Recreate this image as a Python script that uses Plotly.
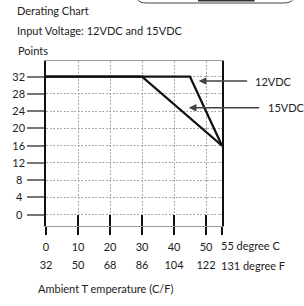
import plotly.graph_objects as go

# ---- data ----
temp_c_12 = [0, 45, 55]
points_12 = [32, 32, 16]
temp_c_15 = [0, 30, 55]
points_15 = [32, 32, 16]

x_tickvals = [0, 10, 20, 30, 40, 50, 55]
x_ticktext_c = ["0", "10", "20", "30", "40", "50", "55"]
x_ticktext_f = ["32", "50", "68", "86", "104", "122", "131"]
y_tickvals = [0, 4, 8, 12, 16, 20, 24, 28, 32]
y_ticktext = ["0", "4", "8", "12", "16", "20", "24", "28", "32"]
unit_c = "degree C"
unit_f = "degree F"

FONT = "Lato"
TXT = "#222222"

# plot-area geometry (pixels)
L, R, T, B = 44, 82, 61, 80
W, H = 304, 306
PW, PH = W - L - R, H - T - B


def px(x):
    return (x - L) / PW


def py(y):
    return (H - B - y) / PH


# the last tick's label (with its unit) starts at the tick in the reference,
# so it is drawn as a left-anchored annotation at that tick value
last_v = x_tickvals[-1]
tt_c = x_ticktext_c[:-1] + [""]
tt_f = x_ticktext_f[:-1] + [""]
# single-digit y labels look centred in the reference
tt_y = [t + "\u2009\u2009" if len(t) == 1 else t for t in y_ticktext]

fig = go.Figure()
fig.add_trace(go.Scatter(x=temp_c_12, y=points_12, mode="lines",
                         line=dict(color="#111111", width=2.2), showlegend=False,
                         hoverinfo="skip"))
fig.add_trace(go.Scatter(x=temp_c_15, y=points_15, mode="lines",
                         line=dict(color="#111111", width=2.2), showlegend=False,
                         hoverinfo="skip"))

grid_dash = "2px,1.5px"

fig.update_layout(
    width=W, height=H,
    margin=dict(l=L, r=R, t=T, b=B),
    paper_bgcolor="white", plot_bgcolor="white",
    font=dict(family=FONT, size=11, color=TXT),
    showlegend=False,
    xaxis=dict(
        range=[0, 55], tickmode="array", tickvals=x_tickvals, ticktext=tt_c,
        ticks="outside", ticklen=8, tickwidth=1.5, tickcolor="#111111",
        showline=True, linecolor="#999999", linewidth=1.2, mirror=True,
        showgrid=True, gridcolor="#aaaaaa", gridwidth=1, griddash=grid_dash,
        zeroline=False, ticklabelstandoff=3, tickangle=0,
        tickfont=dict(family=FONT, size=11, color=TXT),
    ),
    xaxis2=dict(
        range=[0, 55], overlaying="x", anchor="y", side="bottom",
        tickmode="array", tickvals=x_tickvals, ticktext=tt_f,
        ticks="inside", ticklen=11, tickwidth=1.5, tickcolor="#111111",
        showline=False, showgrid=False, zeroline=False, ticklabelstandoff=31,
        tickangle=0,
        tickfont=dict(family=FONT, size=11, color=TXT),
    ),
    yaxis=dict(
        range=[-2.62, 35.64], tickmode="array", tickvals=y_tickvals, ticktext=tt_y,
        ticks="outside", ticklen=17, tickwidth=1.6, tickcolor="#777777",
        showline=True, linecolor="#111111", linewidth=1.5, mirror=True,
        showgrid=True, gridcolor="#aaaaaa", gridwidth=1, griddash=grid_dash,
        zeroline=False,
        tickfont=dict(family=FONT, size=11, color=TXT),
    ),
)

# dummy trace to activate xaxis2
fig.add_trace(go.Scatter(x=[None], y=[None], xaxis="x2", yaxis="y", showlegend=False))

ann = []
# titles
ann.append(dict(text="Derating Chart", xref="paper", yref="paper", x=px(13), y=py(10),
                xanchor="left", yanchor="middle", showarrow=False))
ann.append(dict(text="Input Voltage: 12VDC and 15VDC", xref="paper", yref="paper",
                x=px(13), y=py(31), xanchor="left", yanchor="middle", showarrow=False))
ann.append(dict(text="Points", xref="paper", yref="paper", x=px(14), y=py(50),
                xanchor="left", yanchor="middle", showarrow=False))
ann.append(dict(text="Ambient T emperature (C/F)", xref="paper", yref="paper",
                x=px(34), y=py(288), xanchor="left", yanchor="middle", showarrow=False))
ann.append(dict(text=f"{x_ticktext_c[-1]} {unit_c}", xref="x", yref="paper",
                x=last_v, y=py(245.5), xshift=-3,
                xanchor="left", yanchor="middle", showarrow=False))
ann.append(dict(text=f"{x_ticktext_f[-1]} {unit_f}", xref="x", yref="paper",
                x=last_v, y=py(265), xshift=-3,
                xanchor="left", yanchor="middle", showarrow=False))
# arrows
ann.append(dict(text="", x=47.7, y=31.0, xref="x", yref="y", ax=50, ay=0,
                showarrow=True, arrowhead=2, arrowsize=1.1, arrowwidth=1.4,
                arrowcolor="#444444"))
ann.append(dict(text="", x=44.6, y=24.8, xref="x", yref="y", ax=72, ay=0,
                showarrow=True, arrowhead=2, arrowsize=1.1, arrowwidth=1.4,
                arrowcolor="#444444"))
ann.append(dict(text="12VDC", xref="paper", yref="paper", x=px(253), y=py(81),
                xanchor="left", yanchor="middle", showarrow=False))
ann.append(dict(text="15VDC", xref="paper", yref="paper", x=px(266), y=py(107.7),
                xanchor="left", yanchor="middle", showarrow=False))
fig.update_layout(annotations=ann)

# cropped decorative frame fragment at the top
fig.add_shape(type="path", xref="paper", yref="paper",
              path=(f"M {px(136.7)},{py(0)} Q {px(139)},{py(3)} {px(146)},{py(3)} "
                    f"L {px(284)},{py(3)} Q {px(291)},{py(3)} {px(293.5)},{py(0)}"),
              line=dict(color="#444444", width=1))
fig.add_shape(type="rect", xref="paper", yref="paper",
              x0=px(197.7), x1=px(255), y0=py(1.6), y1=py(-1),
              line=dict(width=0), fillcolor="#333333")

fig.write_html(
    "out.html",
    config={"displayModeBar": False},
    post_script="document.body.style.margin='0';document.body.style.overflow='hidden';",
)
